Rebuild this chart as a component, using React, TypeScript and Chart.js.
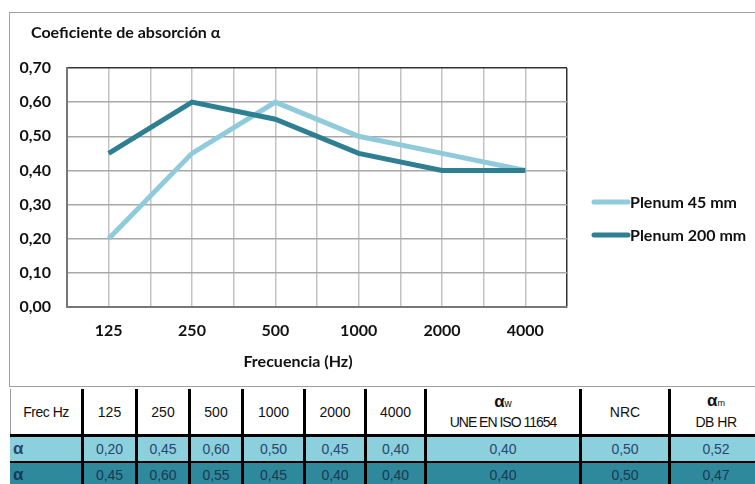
import React, { useEffect, useRef } from 'react';
import { Chart, registerables } from 'chart.js';

Chart.register(...registerables);

// ---- data ----
const categories = ['125', '250', '500', '1000', '2000', '4000'];
const plenum45 = [0.2, 0.45, 0.6, 0.5, 0.45, 0.4];
const plenum200 = [0.45, 0.6, 0.55, 0.45, 0.4, 0.4];
const seriesNames = ['Plenum 45 mm', 'Plenum 200 mm'];
const alphaW = [0.4, 0.4];
const nrc = [0.5, 0.5];
const alphaM = [0.52, 0.47];
const yMin = 0;
const yMax = 0.7;
const yStep = 0.1;
const chartTitle = 'Coeficiente de absorción α';
const xTitle = 'Frecuencia (Hz)';

const COLOR_LIGHT = '#8fcbdb';
const COLOR_DARK = '#2f7f93';
const ROW_LIGHT = '#8ccfdd';
const ROW_DARK = '#2f899d';

const fmt = (v: number) => v.toFixed(2).replace('.', ',');

const overlayPlugin = {
  id: 'overlay',
  afterDraw(chart: any) {
    const ctx = chart.ctx;
    ctx.save();
    ctx.fillStyle = '#111';
    ctx.font = 'bold 16px Lato';
    ctx.textBaseline = 'middle';
    ctx.textAlign = 'left';
    ctx.fillText(chartTitle, 21, 20);
    ctx.textAlign = 'center';
    ctx.fillText(xTitle, 288, 349);
    const dsList = [chart.data.datasets[0], chart.data.datasets[1]];
    dsList.forEach((ds: any, i: number) => {
      const y = 189 + i * 33;
      ctx.strokeStyle = ds.borderColor;
      ctx.lineWidth = 5;
      ctx.lineCap = 'round';
      ctx.beginPath();
      ctx.moveTo(584, y);
      ctx.lineTo(618, y);
      ctx.stroke();
      ctx.textAlign = 'left';
      ctx.fillStyle = '#111';
      ctx.fillText(ds.label, 620, y + 1);
    });
    ctx.restore();
  },
};

function AbsorptionChart() {
  const ref = useRef<HTMLCanvasElement>(null);
  useEffect(() => {
    if (!ref.current) return;
    const chart = new Chart(ref.current, {
      type: 'line',
      data: {
        datasets: [
          {
            label: seriesNames[0],
            data: plenum45.map((v, i) => ({ x: i, y: v })),
            borderColor: COLOR_LIGHT,
            backgroundColor: COLOR_LIGHT,
            borderWidth: 5,
            pointRadius: 0,
            tension: 0,
            order: 1,
          },
          {
            label: seriesNames[1],
            data: plenum200.map((v, i) => ({ x: i, y: v })),
            borderColor: COLOR_DARK,
            backgroundColor: COLOR_DARK,
            borderWidth: 5,
            pointRadius: 0,
            tension: 0,
            order: 0,
          },
        ],
      },
      options: {
        animation: false,
        responsive: true,
        maintainAspectRatio: false,
        layout: { padding: { left: 0, top: 55, right: 188, bottom: 0 } },
        plugins: {
          legend: { display: false },
          title: { display: false },
          tooltip: { enabled: false },
        },
        scales: {
          x: {
            type: 'linear',
            min: -0.5,
            max: categories.length - 0.5,
            afterFit: (s: any) => {
              s.height = 79;
            },
            afterBuildTicks: (s: any) => {
              const t = [];
              for (let v = -0.5; v <= categories.length - 0.5 + 1e-9; v += 0.5) t.push({ value: v });
              s.ticks = t;
            },
            ticks: {
              autoSkip: false,
              maxRotation: 0,
              padding: 14,
              color: '#111',
              font: { family: 'Lato', weight: 'bold', size: 16 },
              callback: (v: any) => (Number.isInteger(v) ? categories[v] : ''),
            },
            grid: {
              drawTicks: false,
              lineWidth: 1.5,
              color: (c: any) => (c.tick && c.tick.value >= categories.length - 0.5 - 1e-9 ? '#333' : '#c3c3c3'),
            },
            border: { display: true, color: '#777', width: 2 },
          },
          y: {
            min: yMin,
            max: yMax,
            afterFit: (s: any) => {
              s.width = 57;
            },
            ticks: {
              stepSize: yStep,
              padding: 16,
              color: '#111',
              font: { family: 'Lato', weight: 'bold', size: 16 },
              callback: (v: any) => fmt(Number(v)),
            },
            grid: {
              drawTicks: false,
              lineWidth: 1.5,
              color: (c: any) => (c.tick && c.tick.value >= yMax - 1e-9 ? '#333' : '#a8a8a8'),
            },
            border: { display: true, color: '#777', width: 2 },
          },
        },
      },
      plugins: [overlayPlugin],
    });
    return () => chart.destroy();
  }, []);
  return (
    <div style={{ position: 'absolute', left: 0, top: 0, width: 745, height: 373 }}>
      <canvas ref={ref} />
    </div>
  );
}

const colWidths = [74, 54, 53, 53, 62, 61, 60, 155, 89, 90];
const cellBase: React.CSSProperties = {
  boxSizing: 'border-box',
  display: 'flex',
  alignItems: 'center',
  justifyContent: 'center',
  flex: 'none',
  fontFamily: '"Liberation Sans", Arial, sans-serif',
  fontSize: 14,
};

function DataTable() {
  const rows = [
    { bg: ROW_LIGHT, color: '#27476a', vals: plenum45, aw: alphaW[0], nrc: nrc[0], am: alphaM[0] },
    { bg: ROW_DARK, color: '#183a52', vals: plenum200, aw: alphaW[1], nrc: nrc[1], am: alphaM[1] },
  ];
  const headerCells: React.ReactNode[] = [
    'Frec Hz',
    ...categories,
    <div style={{ textAlign: 'center', lineHeight: '19px' }}>
      <div>
        <span style={{ fontWeight: 'bold', fontSize: 17 }}>α</span>
        <span style={{ fontSize: 10 }}>w</span>
      </div>
      <div style={{ letterSpacing: -1 }}>UNE EN ISO 11654</div>
    </div>,
    'NRC',
    <div style={{ textAlign: 'center', lineHeight: '19px' }}>
      <div>
        <span style={{ fontWeight: 'bold', fontSize: 17 }}>α</span>
        <span style={{ fontSize: 9 }}>m</span>
      </div>
      <div style={{ letterSpacing: -0.5 }}>DB HR</div>
    </div>,
  ];
  return (
    <div style={{ position: 'absolute', left: 10, top: 389, width: 760 }}>
      <div style={{ display: 'flex', height: 48, background: '#fff', borderBottom: '3px solid #000', boxSizing: 'border-box' }}>
        {headerCells.map((h, i) => (
          <div
            key={i}
            style={{
              ...cellBase,
              width: colWidths[i],
              color: '#111',
              borderRight: i < colWidths.length - 1 ? '3px solid #000' : 'none',
              borderLeft: i === 0 ? '1px solid #999' : 'none',
              letterSpacing: i === 0 ? -0.5 : 0,
            }}
          >
            {h}
          </div>
        ))}
      </div>
      {rows.map((r, ri) => {
        const cells = [...r.vals.map(fmt), fmt(r.aw), fmt(r.nrc), fmt(r.am)];
        return (
          <div
            key={ri}
            style={{ display: 'flex', height: 26, background: r.bg, borderBottom: '2px solid #000', boxSizing: 'border-box' }}
          >
            <div
              style={{
                ...cellBase,
                width: colWidths[0],
                justifyContent: 'flex-start',
                paddingLeft: 3,
                color: r.color,
                fontWeight: 'bold',
                fontSize: 17,
                borderRight: '3px solid #000',
              }}
            >
              α
            </div>
            {cells.map((c, ci) => (
              <div
                key={ci}
                style={{
                  ...cellBase,
                  width: colWidths[ci + 1],
                  color: r.color,
                  borderRight: ci + 1 < colWidths.length - 1 ? '3px solid #000' : 'none',
                }}
              >
                {c}
              </div>
            ))}
          </div>
        );
      })}
    </div>
  );
}

export default function App() {
  return (
    <div style={{ position: 'absolute', left: 0, top: 0, width: 755, height: 484, overflow: 'hidden', background: '#fff' }}>
      <div
        style={{
          position: 'absolute',
          left: 9,
          top: 12,
          width: 760,
          height: 375,
          border: '1px solid #a0a0a0',
          boxSizing: 'border-box',
        }}
      >
        <AbsorptionChart />
      </div>
      <DataTable />
    </div>
  );
}
